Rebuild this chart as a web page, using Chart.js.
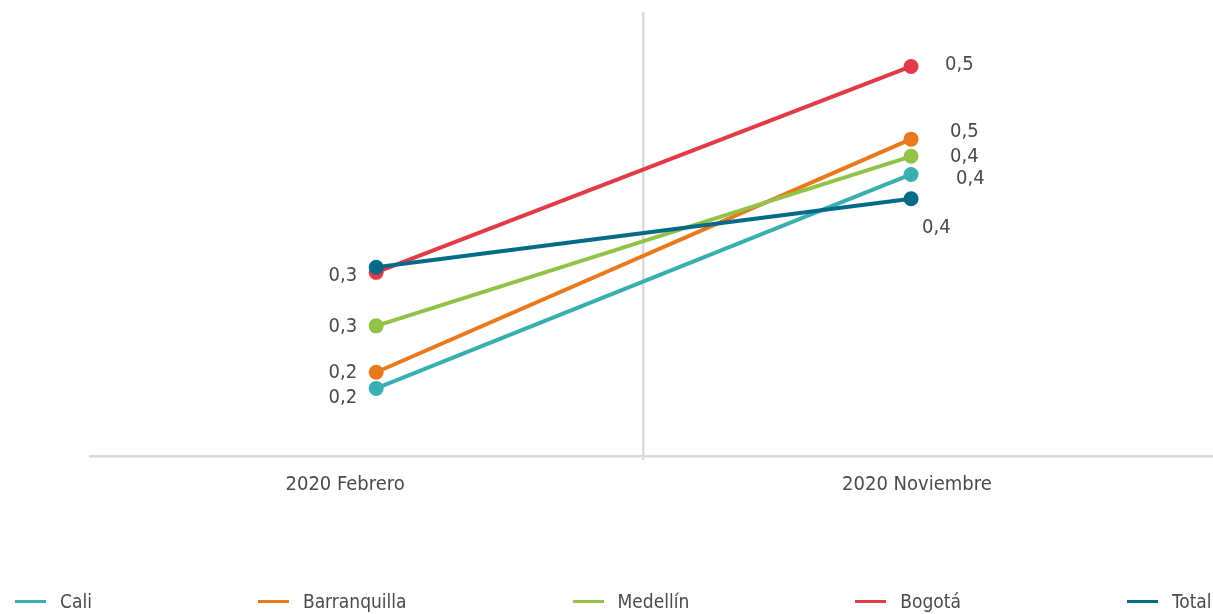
<!DOCTYPE html>
<html>
<head>
<meta charset="utf-8">
<script src="https://cdn.jsdelivr.net/npm/chart.js@4/dist/chart.umd.min.js"></script>
<style>
  html, body { margin: 0; padding: 0; background: #fff; }
  #wrap { position: relative; width: 1213px; height: 614px; overflow: hidden; }
  #legend {
    position: absolute; left: 15px; top: 589px; height: 24px;
    display: flex; align-items: center; gap: 166px; white-space: nowrap;
    font-family: "Liberation Sans Narrow", "DejaVu Sans Condensed", sans-serif;
    font-size: 19px; color: #4a4a4a;
  }
  #legend .item { display: flex; align-items: center; }
  #legend .mark { width: 31px; height: 3px; margin-right: 14px; }
</style>
</head>
<body>
<div id="wrap">
  <canvas id="chart" width="1213" height="614"></canvas>
  <div id="legend"></div>
</div>
<script>
const FONT = '"Liberation Sans Narrow", "DejaVu Sans Condensed", sans-serif';

const categories = ['2020 Febrero', '2020 Noviembre'];
const seriesNames = ['Cali', 'Barranquilla', 'Medellín', 'Bogotá', 'Total'];
const seriesColors = ['#3aafb0', '#ea781c', '#92c248', '#e23a48', '#036a88'];

const cali = [0.211, 0.423];
const barranquilla = [0.227, 0.458];
const medellin = [0.273, 0.441];
const bogota = [0.326, 0.530];
const total = [0.331, 0.399];

const seriesValues = [cali, barranquilla, medellin, bogota, total];

// where each value label sits relative to its point: [dx, dy] per category, null = no label
const labelOffsets = [
  [[-19, 9], [45, 4]],
  [[-19, 1], [39, -7]],
  [[-19, 1], [39, 0]],
  [[-19, 3], [34, -2]],
  [null, [11, 29]]
];

// x scale: categories sit at 0 and 1, the divider at 0.5;
// the category captions are set a little off their points
const X_MIN = -0.535;
const X_MAX = 1.5626;
const CAPTION_AT = [-0.058, 1.011];
const DIVIDER_AT = 0.5;

const fmt = v => v.toFixed(1).replace('.', ',');

const valueLabels = {
  id: 'valueLabels',
  afterDatasetsDraw(chart) {
    const ctx = chart.ctx;
    ctx.save();
    ctx.font = '20px ' + FONT;
    ctx.fillStyle = '#4a4a4a';
    ctx.textBaseline = 'middle';
    chart.data.datasets.forEach((ds, i) => {
      const meta = chart.getDatasetMeta(i);
      meta.data.forEach((pt, j) => {
        const off = labelOffsets[i][j];
        if (!off) return;
        ctx.textAlign = j === 0 ? 'right' : 'left';
        ctx.fillText(fmt(seriesValues[i][j]), pt.x + off[0], pt.y + off[1]);
      });
    });
    ctx.restore();
  }
};

const datasets = seriesNames.map((name, i) => ({
  label: name,
  data: seriesValues[i].map((v, j) => ({ x: j, y: v })),
  borderColor: seriesColors[i],
  backgroundColor: seriesColors[i],
  borderWidth: 4,
  pointRadius: 7.5,
  pointHoverRadius: 7.5,
  pointBorderWidth: 0,
  order: seriesNames.length - i
}));

new Chart(document.getElementById('chart'), {
  type: 'line',
  data: { datasets },
  plugins: [valueLabels],
  options: {
    responsive: false,
    animation: false,
    layout: { autoPadding: false, padding: { top: 12, left: 90, right: 1, bottom: 0 } },
    plugins: { legend: { display: false }, tooltip: { enabled: false } },
    scales: {
      x: {
        type: 'linear',
        min: X_MIN,
        max: X_MAX,
        afterBuildTicks: s => {
          s.ticks = [CAPTION_AT[0], DIVIDER_AT, CAPTION_AT[1]].map(value => ({ value }));
        },
        afterFit: s => { s.height = 158; },
        grid: {
          color: c => (c.tick && c.tick.value === DIVIDER_AT ? '#dadada' : 'rgba(0,0,0,0)'),
          lineWidth: 2.5,
          drawTicks: true,
          tickLength: 4
        },
        border: { color: '#dadada', width: 2.5 },
        ticks: {
          autoSkip: false,
          maxRotation: 0,
          padding: 13,
          color: '#4a4a4a',
          font: { family: FONT, size: 20 },
          callback: v => {
            const k = CAPTION_AT.indexOf(v);
            return k >= 0 ? categories[k] : '';
          }
        }
      },
      y: {
        display: false,
        min: 0.144,
        max: 0.584
      }
    }
  }
});

const legend = document.getElementById('legend');
seriesNames.forEach((name, i) => {
  const item = document.createElement('div');
  item.className = 'item';
  const mark = document.createElement('span');
  mark.className = 'mark';
  mark.style.background = seriesColors[i];
  const text = document.createElement('span');
  text.textContent = name;
  item.appendChild(mark);
  item.appendChild(text);
  legend.appendChild(item);
});
</script>
</body>
</html>
